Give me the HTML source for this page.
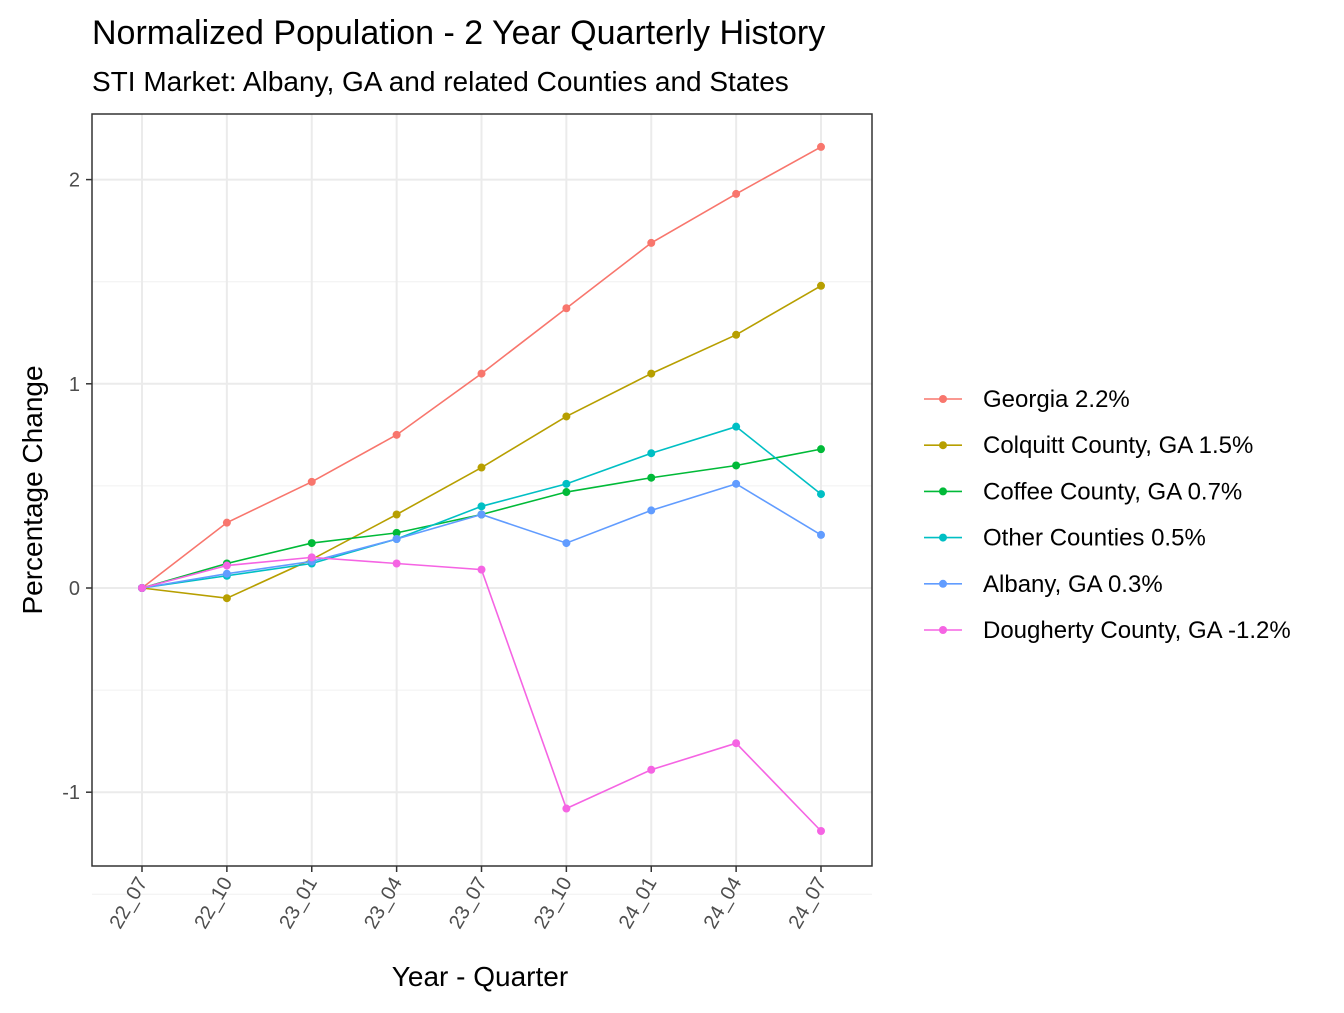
<!DOCTYPE html>
<html><head><meta charset="utf-8"><style>
body{margin:0;background:#fff}
svg{font-family:"Liberation Sans",Arial,sans-serif}
</style></head><body>
<svg width="1344" height="1008" viewBox="0 0 1344 1008">
<text x="92" y="44" font-size="34" fill="#000">Normalized Population - 2 Year Quarterly History</text>
<text x="92" y="91" font-size="28" fill="#000">STI Market: Albany, GA and related Counties and States</text>
<g id="grid"></g>
<g id="series"></g>
<rect x="92" y="114" width="780" height="752" fill="none" stroke="#333" stroke-width="1.5"/>
<g id="axes"></g>
<text x="480" y="986" font-size="28" text-anchor="middle">Year - Quarter</text>
<text transform="translate(42,490) rotate(-90)" font-size="28" text-anchor="middle">Percentage Change</text>
<g id="legend"></g>
</svg>
<script>
const categories=["22_07","22_10","23_01","23_04","23_07","23_10","24_01","24_04","24_07"];
const seriesNames=["Georgia 2.2%","Colquitt County, GA 1.5%","Coffee County, GA 0.7%","Other Counties 0.5%","Albany, GA 0.3%","Dougherty County, GA -1.2%"];
const georgia=[0,0.32,0.52,0.75,1.05,1.37,1.69,1.93,2.16];
const colquitt=[0,-0.05,0.14,0.36,0.59,0.84,1.05,1.24,1.48];
const coffee=[0,0.12,0.22,0.27,0.36,0.47,0.54,0.60,0.68];
const other=[0,0.06,0.12,0.24,0.40,0.51,0.66,0.79,0.46];
const albany=[0,0.07,0.13,0.24,0.36,0.22,0.38,0.51,0.26];
const dougherty=[0,0.11,0.15,0.12,0.09,-1.08,-0.89,-0.76,-1.19];
const yTicks=[-1,0,1,2];
const colors=["#F8766D","#B79F00","#00BA38","#00BFC4","#619CFF","#F564E3"];
const all=[georgia,colquitt,coffee,other,albany,dougherty];
const NS="http://www.w3.org/2000/svg";
const xs=i=>142+i*(821-142)/(categories.length-1);
const ys=v=>588-v*204.2;
function mk(t,a,p){const e=document.createElementNS(NS,t);for(const k in a)e.setAttribute(k,a[k]);p.appendChild(e);return e;}
const grid=document.getElementById('grid'),axes=document.getElementById('axes'),ser=document.getElementById('series'),leg=document.getElementById('legend');
mk('rect',{x:92,y:114,width:780,height:752,fill:'#fff'},grid);
for(let k=-1.5;k<=2;k+=1){const l=mk('line',{x1:92,x2:872,y1:ys(k),y2:ys(k),stroke:'#f0f0f0','stroke-width':1},grid);

}
yTicks.forEach(v=>{const l=mk('line',{x1:92,x2:872,y1:ys(v),y2:ys(v),stroke:'#ebebeb','stroke-width':2},grid);


const t=mk('line',{x1:86,x2:92,y1:ys(v),y2:ys(v),stroke:'#333','stroke-width':1.5},axes);


const tx=mk('text',{x:80,y:ys(v)+7,'font-size':20,fill:'#4d4d4d','text-anchor':'end'},axes);tx.textContent=v;

});
categories.forEach((c,i)=>{const l=mk('line',{x1:xs(i),x2:xs(i),y1:114,y2:866,stroke:'#ebebeb','stroke-width':2},grid);


const t=mk('line',{x1:xs(i),x2:xs(i),y1:866,y2:872,stroke:'#333','stroke-width':1.5},axes);


const tx=mk('text',{transform:`translate(${xs(i)+6},${882}) rotate(-60)`,'font-size':20,fill:'#4d4d4d','text-anchor':'end'},axes);tx.textContent=c;

});
all.forEach((d,s)=>{const p=mk('polyline',{points:d.map((v,i)=>xs(i)+','+ys(v)).join(' '),fill:'none',stroke:colors[s],'stroke-width':1.6},ser);


d.forEach((v,i)=>{const c=mk('circle',{cx:xs(i),cy:ys(v),r:4,fill:colors[s]},ser);

});
const ly=399+s*46.2;
const g=mk('g',{},leg);


mk('line',{x1:924,x2:962,y1:ly,y2:ly,stroke:colors[s],'stroke-width':1.6},g);
mk('circle',{cx:943,cy:ly,r:4,fill:colors[s]},g);
const t=mk('text',{x:983,y:ly+8,'font-size':24,fill:'#000'},g);t.textContent=seriesNames[s];});
</script>
</body></html>
